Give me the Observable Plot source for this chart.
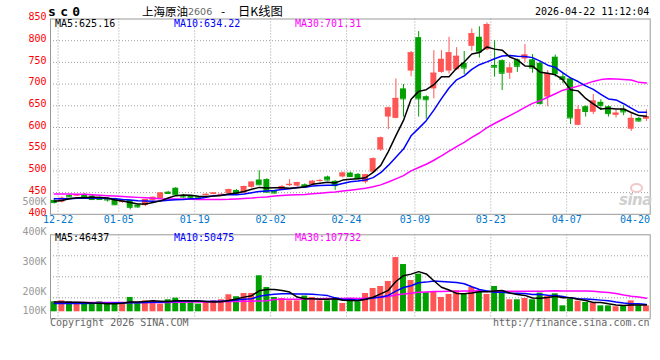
<!DOCTYPE html>
<html><head><meta charset="utf-8">
<script src="https://cdn.jsdelivr.net/npm/d3@7"></script>
<script src="https://cdn.jsdelivr.net/npm/@observablehq/plot@0.6"></script>
<style>
body{margin:0;background:#fff;}
#wrap{position:relative;width:660px;height:360px;overflow:hidden;background:#fff;font-family:"DejaVu Sans Mono",monospace;font-size:10px;}
#wrap svg{position:absolute;left:0;top:0;background:transparent;}
.t{position:absolute;white-space:pre;line-height:12px;}
</style></head><body><div id="wrap"></div>
<script>
// ---------- data ----------
const dates = ["12-22","12-23","12-24","12-25","12-26","12-29","12-30","12-31","01-05","01-06","01-07","01-08","01-09","01-12","01-13","01-14","01-15","01-16","01-19","01-20","01-21","01-22","01-23","01-26","01-27","01-28","01-29","01-30","02-02","02-03","02-04","02-05","02-06","02-09","02-10","02-11","02-12","02-13","02-24","02-25","02-26","02-27","03-02","03-03","03-04","03-05","03-06","03-09","03-10","03-11","03-12","03-13","03-16","03-17","03-18","03-19","03-20","03-23","03-24","03-25","03-26","03-27","03-30","03-31","04-01","04-02","04-03","04-07","04-08","04-09","04-10","04-13","04-14","04-15","04-16","04-17","04-20","04-21","04-22"];
const opens = [432,428,443,442,444,442,439,437,436,427, 432,421,420,432,436,451,460,443,441,440, 443,446,444,447,455,449,462,479,480,453, 456,466,465,468,468,476,486,476,486,495, 492,474,497,548,624,621,689,730,807,671, 689,727,730,733,748,787,808,779,743,754, 725,756,758,756,748,670,762,717,712,605, 648,635,658,648,628,642,596,621,619];
const highs = [434,440,445,446,448,444,440,438,437,431, 432,422,434,440,450,453,462,446,443,441, 447,449,447,458,457,465,475,500,482,455, 466,480,474,470,478,480,488,478,497,497, 494,492,530,578,647,712,699,775,821,673, 777,777,808,784,775,827,832,841,800,756, 747,758,791,768,750,731,767,727,714,650, 650,676,664,650,641,650,632,623,641];
const lows = [424,426,439,441,440,432,432,428,420,425, 410,414,418,430,434,446,444,437,436,436, 442,445,443,446,446,448,460,466,449,447, 455,464,463,461,466,474,477,455,484,485, 480,470,495,545,595,620,624,717,624,619, 666,725,723,731,722,776,760,777,716,685, 711,727,749,725,652,648,716,701,607,604, 624,630,639,624,622,627,591,612,614];
const closes = [427,437,440,445,441,434,434,433,422,430, 416,417,434,439,449,448,445,440,438,437, 446,449,446,457,447,464,474,468,451,449, 464,469,473,463,476,478,479,466,495,487, 482,491,528,576,645,667,666,772,666,664, 725,757,772,764,737,816,774,837,739,725, 737,741,767,737,655,724,724,711,622,641, 637,661,651,632,633,636,621,615,625];
const volumes = [85700,94000,85700,66000,66000,66000,85700,66000,66000,80000, 123000,80000,94000,94000,66000,103000,117000,94000,86000,66000, 80000,94000,103000,146000,129000,157000,157000,309000,208000,123000, 114000,94000,94000,135000,123000,94000,94000,117000,71000,109000, 86000,157000,200000,217000,260000,465000,405000,268000,323000,163000, 174000,123000,149000,180000,149000,208000,171000,149000,217000,166000, 103000,103000,114000,103000,160000,131000,154000,51000,109000,91000, 80000,71000,51000,51000,43000,51000,94000,51000,51000];
const ma5Head = [430,432,436,438];
const ma10Head = [436,436,436,437,437,437,437,436.5,436];
const ma30Head = [447,447,446.5,446,446,445,444,443,442,441,440,439,438,437,436,435.5,435,435,434.5,434,434,434,434,434.5,435.5,436.5,437.5,439,440];
const vma5Head = [84000,83000,82000,82000];
const vma10Head = [72000,72000,72000,72000,72000,73000,73000,74000,75000];
const vma30Head = [80000,80000,80000,80000,80000,80000,80000,80000,80000,80000,80000,80000,80000,80000,80000,80000,81000,82000,83000,84000,85000,86000,87000,88000,89000,90000,91000,93000,95000];
const priceTicks = [400,450,500,550,600,650,700,750,800,850];
const volTicks = [100000,200000,300000,400000,500000];
const xTickDates = ["12-22","01-05","01-19","02-02","02-24","03-09","03-23","04-07","04-20"];
const priceLegend = ["MA5:625.16","MA10:634.22","MA30:701.31"];
const volLegend = ["MA5:46437","MA10:50475","MA30:107732"];

// ---------- build ----------
const RED = "#ff5555", GREEN = "#00a000", GRID = "#a0a0a0", FRAME = "#999999";
const MA_COLORS = ["#000000","#0000ff","#ff00ff"];
function movingAvg(vals, n, head){ return vals.map((v,i)=> i < n-1 ? head[i] : d3.mean(vals.slice(i-n+1,i+1))); }
const ma5 = movingAvg(closes,5,ma5Head), ma10 = movingAvg(closes,10,ma10Head), ma30 = movingAvg(closes,30,ma30Head);
const vma5 = movingAvg(volumes,5,vma5Head), vma10 = movingAvg(volumes,10,vma10Head), vma30 = movingAvg(volumes,30,vma30Head);
const rows = dates.map((d,i)=>({i, date:d, open:opens[i], high:highs[i], low:lows[i], close:closes[i], vol:volumes[i],
  ma5:ma5[i], ma10:ma10[i], ma30:ma30[i], vma5:vma5[i], vma10:vma10[i], vma30:vma30[i],
  col: closes[i] >= opens[i] ? RED : GREEN}));
const xTicks = xTickDates.map(s=>({label:s, i:dates.indexOf(s)}));
const gridTicks = xTicks.slice(0,-1);
const HALF = 0.39;
const W = 660, H = 360;
const common = {width:W, height:H, marginLeft:50, marginRight:10.3,
  x:{type:"linear", domain:[-0.5, dates.length-0.5], axis:null},
  color:{type:"identity"},
  style:{background:"transparent", fontFamily:"'DejaVu Sans Mono', monospace", fontSize:"10px"}};
const dash = "1,2";

const pricePlot = Plot.plot({...common, marginTop:18.5, marginBottom:H-213.8,
  y:{domain:[priceTicks[0], priceTicks[priceTicks.length-1]], axis:null},
  marks:[
    Plot.gridY(priceTicks.slice(1,-1), {stroke:GRID, strokeOpacity:1, strokeDasharray:dash}),
    Plot.ruleX(gridTicks, {x:d=>d.i+0.5, stroke:GRID, strokeDasharray:dash}),
    Plot.frame({stroke:FRAME}),
    Plot.ruleX(rows, {x:"i", y1:"low", y2:"high", stroke:"col"}),
    Plot.rect(rows, {x1:d=>d.i-HALF, x2:d=>d.i+HALF, y1:"open", y2:"close", fill:"col"}),
    Plot.ruleY(rows, {x1:d=>d.i-HALF, x2:d=>d.i+HALF, y:"close", stroke:"col"}),
    Plot.line(rows, {x:"i", y:"ma30", stroke:MA_COLORS[2]}),
    Plot.line(rows, {x:"i", y:"ma10", stroke:MA_COLORS[1]}),
    Plot.line(rows, {x:"i", y:"ma5", stroke:MA_COLORS[0]}),
    Plot.text(priceTicks, {y:d=>d, text:d=>String(d), frameAnchor:"left", dx:-4, dy:-2, textAnchor:"end", fill:"#ff0000"}),
    Plot.text(xTicks, {x:d=>d.i+0.5, text:"label", frameAnchor:"bottom", dy:9, fill:"#0077cc"})
  ]});

const volDomain = [-60000, 660000];
const volGrid = d3.range(1,4).map(k=>volDomain[0]+k*(volDomain[1]-volDomain[0])/4);
const volPlot = Plot.plot({...common, marginTop:234.3, marginBottom:H-318.3,
  y:{domain:volDomain, axis:null},
  marks:[
    Plot.gridY(volGrid, {stroke:GRID, strokeOpacity:1, strokeDasharray:dash}),
    Plot.ruleX(gridTicks, {x:d=>d.i+0.5, stroke:GRID, strokeDasharray:dash}),
    Plot.frame({stroke:FRAME}),
    Plot.rect(rows, {x1:d=>d.i-HALF, x2:d=>d.i+HALF, y1:0, y2:"vol", fill:"col"}),
    Plot.line(rows, {x:"i", y:"vma30", stroke:MA_COLORS[2]}),
    Plot.line(rows, {x:"i", y:"vma10", stroke:MA_COLORS[1]}),
    Plot.line(rows, {x:"i", y:"vma5", stroke:MA_COLORS[0]})
  ]});

const volLabelPlot = Plot.plot({width:W, height:H, marginLeft:50, marginRight:10,
  y:{domain:[135000, 500000], range:[310.2, 201.4], clamp:true, axis:null},
  style:{background:"transparent", fontFamily:"'DejaVu Sans Mono', monospace", fontSize:"10px"},
  marks:[
    Plot.text(volTicks, {y:d=>d, text:d=>(d/1000)+"K", frameAnchor:"left", dx:-4, textAnchor:"end", fill:"#999999"})
  ]});

const wrap = document.getElementById("wrap");
wrap.append(volLabelPlot, pricePlot, volPlot);

function put(html, x, yc, style){
  const el = document.createElement("div");
  el.className = "t"; el.innerHTML = html;
  el.style.left = x+"px"; el.style.top = (yc-6)+"px";
  if (style) el.style.cssText += style;
  wrap.appendChild(el);
}
const CJK = "font-family:'Noto Sans CJK SC';";
put("sc0", 48, 12, "font-weight:bold;font-size:13px;letter-spacing:4.3px;");
put("上海原油", 142, 11, CJK+"font-size:11.5px;");
put("2606", 188, 11.5, "font-family:'DejaVu Sans';font-size:9.5px;color:#666;");
put("-", 221, 11, CJK+"font-size:12px;");
put("日K线图", 238, 11, CJK+"font-size:12.3px;");
put("2026-04-22 11:12:04", 535, 12, "color:#000");
const lx = [55,174,295];
priceLegend.forEach((s,k)=>put(s, lx[k], 24, "color:"+MA_COLORS[k]));
volLegend.forEach((s,k)=>put(s, lx[k], 238, "color:"+MA_COLORS[k]));
put("Copyright 2026 SINA.COM", 50, 323, "color:#666");
put("http://finance.sina.com.cn", 493, 323, "color:#666");
put("sina", 619, 200, "font-family:'DejaVu Sans';font-style:italic;font-weight:bold;font-size:15px;color:#cfcfcf;letter-spacing:-0.5px;");
put("", 630, 189, "width:9px;height:6px;border:2px solid #f0c8c8;border-radius:50%;");
</script></body></html>
